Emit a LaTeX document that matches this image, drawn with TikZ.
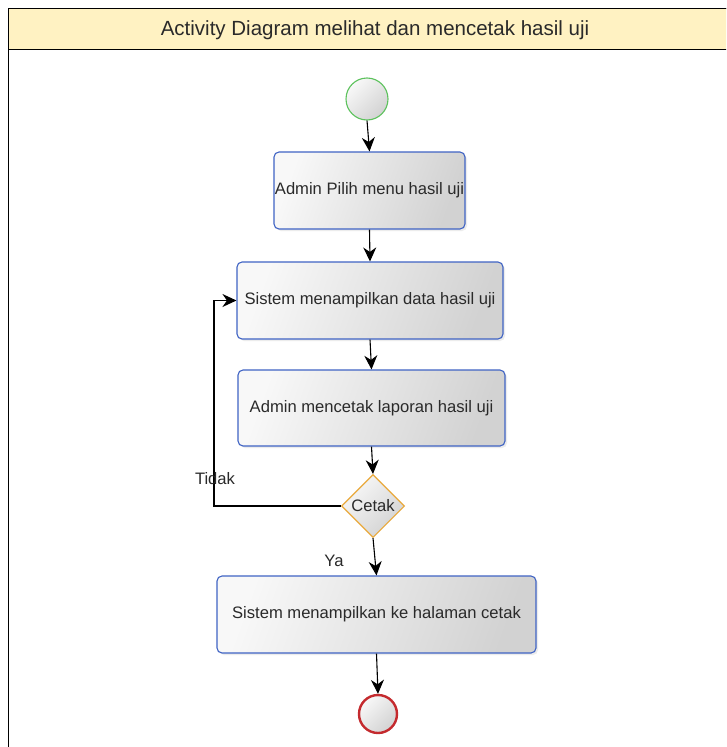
\documentclass[tikz,border=0pt]{standalone}
\usepackage{fontspec}
\setmainfont{Liberation Sans}
\usetikzlibrary{arrows.meta,shapes.geometric,shadows}
\definecolor{titlefill}{HTML}{FFF2C2}
\definecolor{boxline}{HTML}{3F63C4}
\definecolor{startline}{HTML}{5CC25C}
\definecolor{endline}{HTML}{C42A2E}
\definecolor{decline}{HTML}{E9A93C}
\definecolor{shadeA}{HTML}{F8F8F8}
\definecolor{shadeB}{HTML}{D2D2D2}
\definecolor{txt}{HTML}{2A2A2A}
\tikzset{
  txtfont/.style={font=\fontsize{16.6}{18}\selectfont, text=txt},
  actbox/.style={draw=boxline, line width=1.1pt, rounded corners=5pt,
    shading=axis, left color=shadeA, right color=shadeB, shading angle=70,
    drop shadow={shadow xshift=2pt, shadow yshift=-2pt, opacity=0.15},
    inner sep=0pt, txtfont},
  startnode/.style={circle, draw=startline, line width=1.1pt, minimum size=42pt,
    inner sep=0pt, shading=axis, left color=shadeA, right color=shadeB, shading angle=45},
  endnode/.style={circle, draw=endline, line width=2.4pt, minimum size=38pt,
    inner sep=0pt, shading=axis, left color=shadeA, right color=shadeB, shading angle=45},
  decnode/.style={diamond, draw=decline, line width=1.1pt, minimum width=63pt,
    minimum height=63pt, inner sep=0pt, aspect=1, shading=axis, left color=shadeA,
    right color=shadeB, shading angle=45, txtfont},
  flow/.style={draw=black, line width=1.1pt, -{Stealth[length=14pt,width=13pt,inset=4.5pt]}},
  lbl/.style={txtfont}
}
\begin{document}
\begin{tikzpicture}[x=1pt,y=-1pt]
\useasboundingbox (0,0) rectangle (726,747);
% frame and title band
\begin{scope}
\clip (0,0) rectangle (726,747);
\draw[line width=0.9pt, fill=white] (8,8) rectangle (760,780);
\draw[line width=0.9pt, fill=titlefill] (8,8) rectangle (760,49);
\end{scope}
\node[font=\fontsize{20.5}{22}\selectfont, text=txt] (title) at (375,30) {Activity Diagram melihat dan mencetak hasil uji};

% activity nodes
\node[startnode] (start) at (367,99) {};
\node[actbox, minimum width=191pt, minimum height=77pt] (b1) at (369.5,190.5) {\raisebox{-2pt}{Admin Pilih menu hasil uji}};
\node[actbox, minimum width=266pt, minimum height=77pt] (b2) at (370,300.5) {\raisebox{-2pt}{Sistem menampilkan data hasil uji}};
\node[actbox, minimum width=267pt, minimum height=76pt] (b3) at (371.5,408) {\raisebox{-2pt}{Admin mencetak laporan hasil uji}};
\node[decnode] (dec) at (373,506) {\raisebox{-2pt}{Cetak}};
\node[actbox, minimum width=319pt, minimum height=77pt] (b4) at (376.5,614.5) {\raisebox{-2pt}{Sistem menampilkan ke halaman cetak}};
\node[endnode] (end) at (378,714) {};

% control flow
\draw[flow] (start.south) -- (b1.north);
\draw[flow] (b1.south) -- (b2.north);
\draw[flow] (b2.south) -- (b3.north);
\draw[flow] (b3.south) -- (dec.north);
\draw[flow] (dec.south) -- (b4.north);
\draw[flow] (b4.south) -- (end.north);
\coordinate (lb) at (214,506);
\coordinate (lt) at (214,300.5);
\draw[flow] (dec.west) -- (lb) -- (lt) -- (b2.west);

% guard labels
\node[lbl] (tidak) at (215,479) {Tidak};
\node[lbl] (ya) at (334,561) {Ya};
\end{tikzpicture}
\end{document}
